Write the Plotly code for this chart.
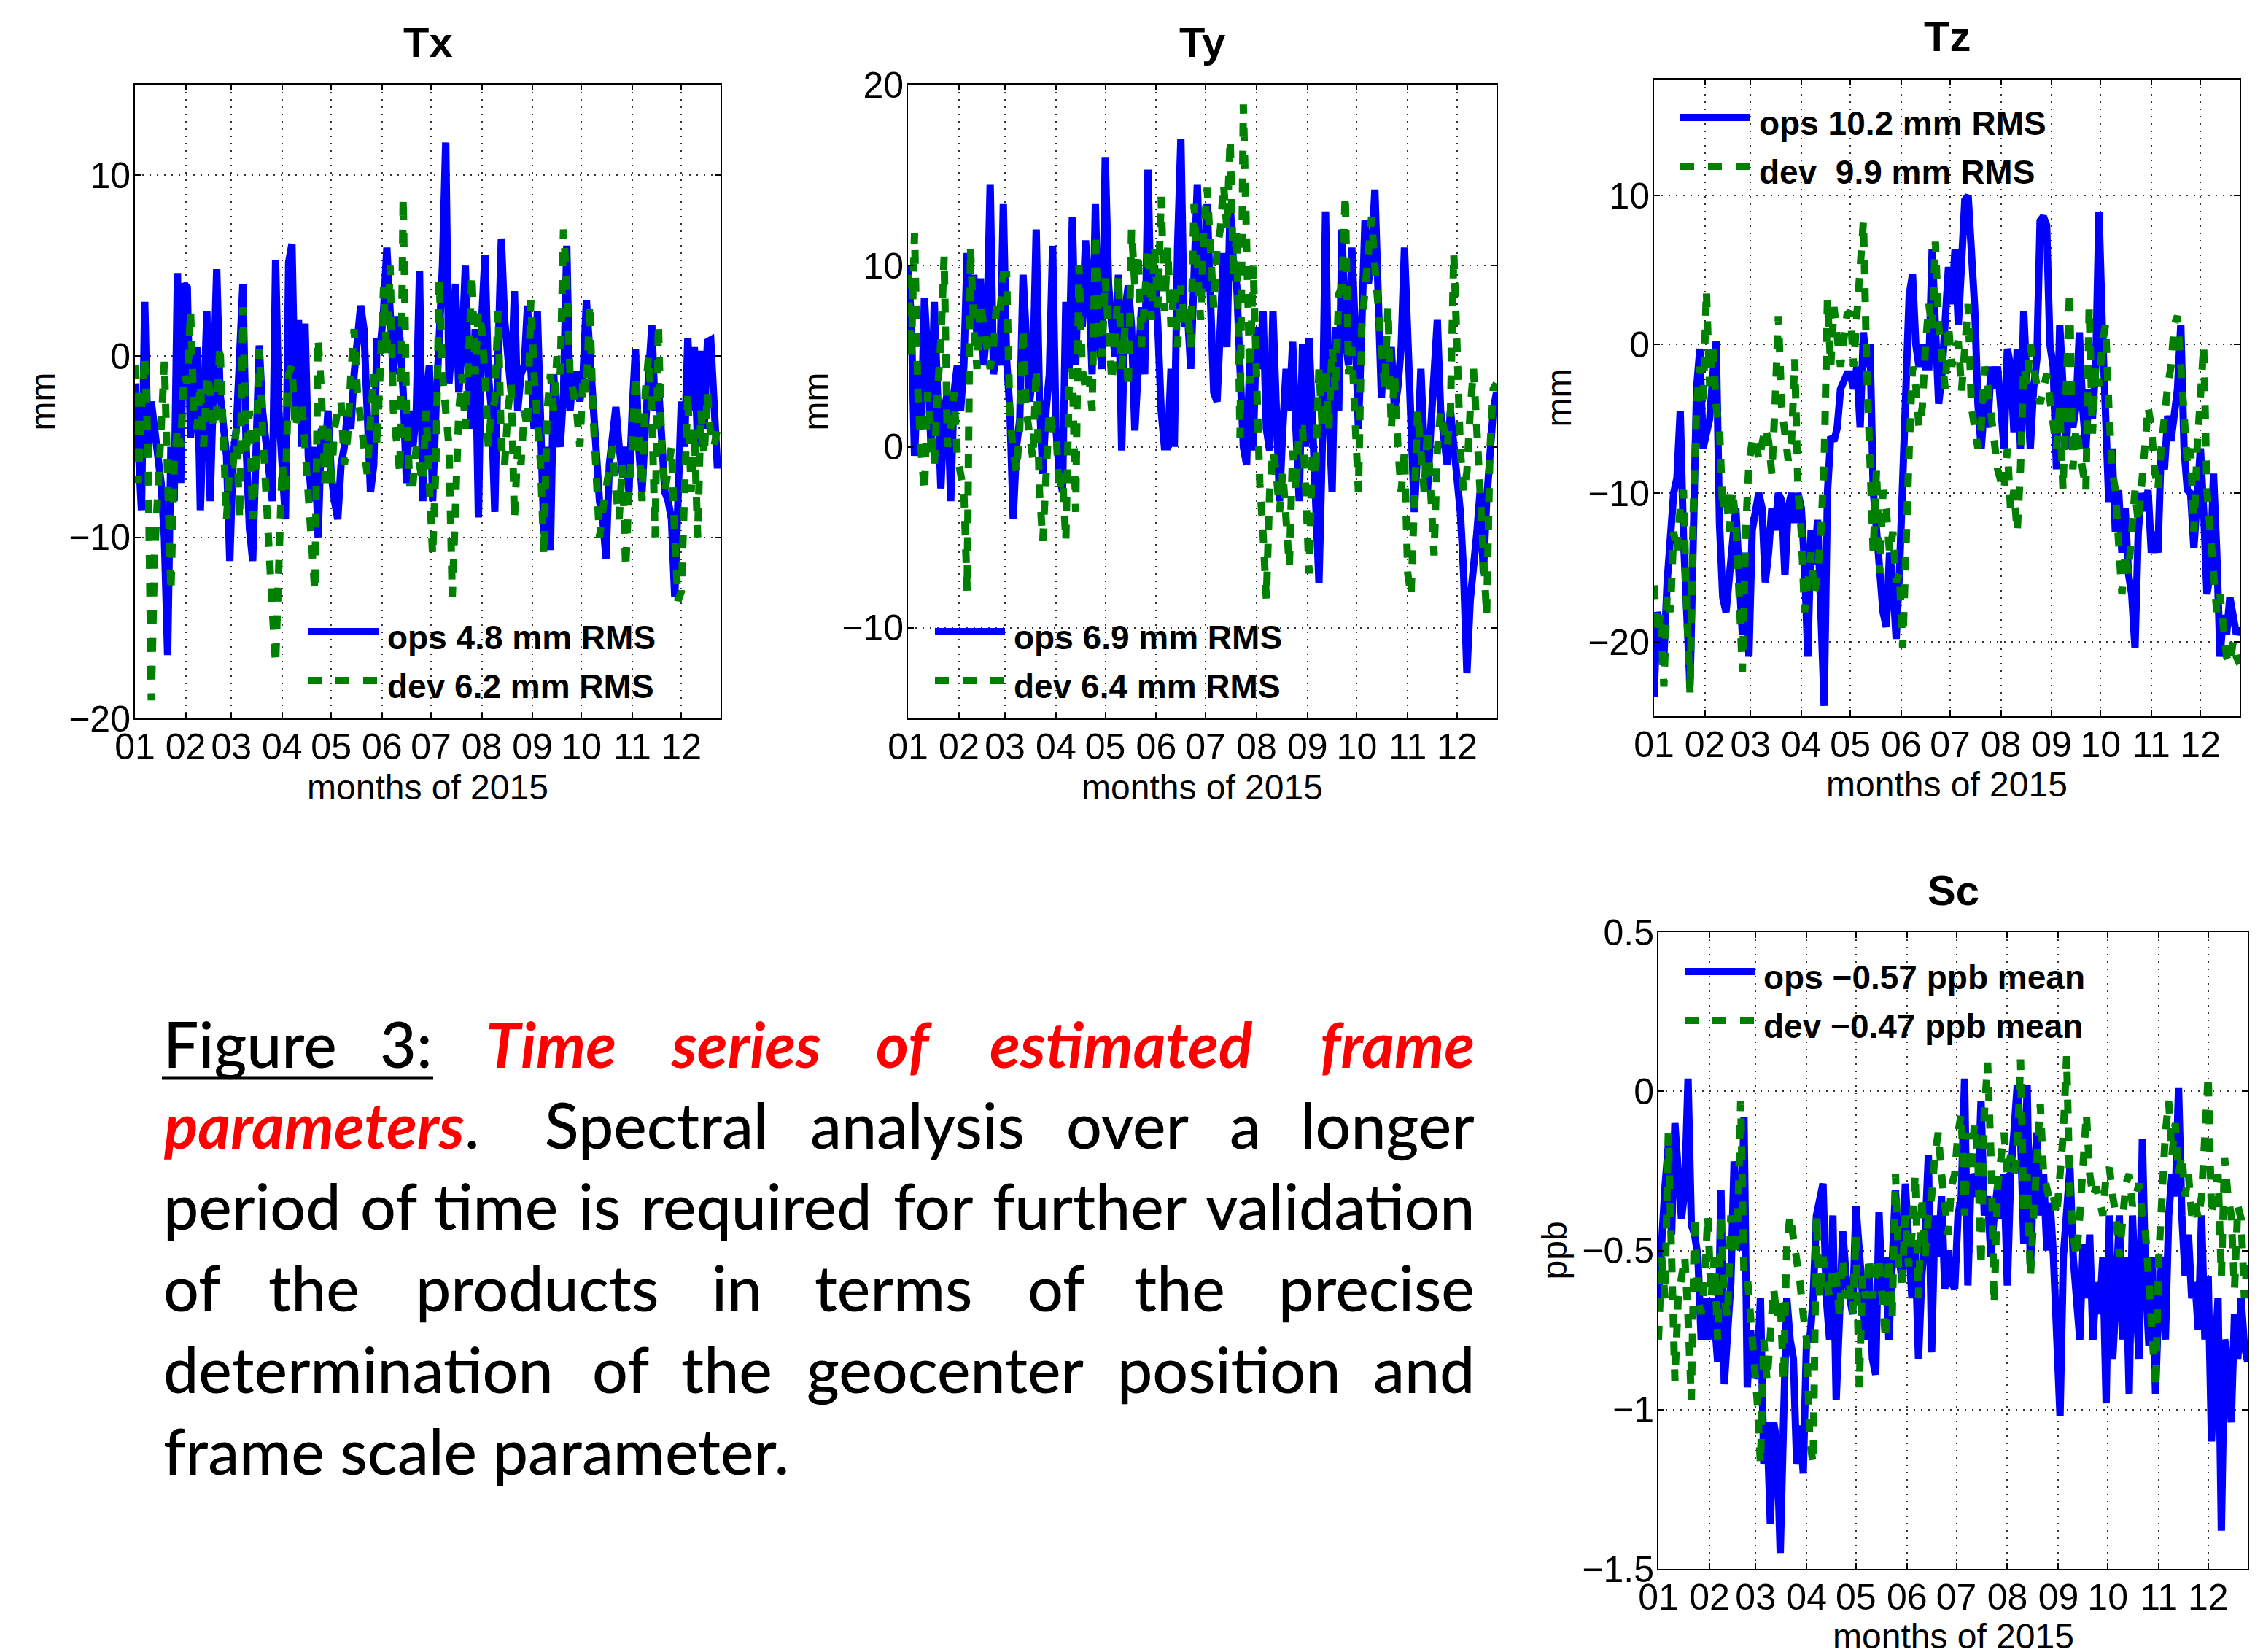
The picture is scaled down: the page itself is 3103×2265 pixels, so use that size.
import plotly.graph_objects as go
import pandas as pd

# ---------------- data (one value every 2 days) ----------------
day_of_year = list(range(1, 360, 2))          # 180 samples, 1 Jan .. 25 Dec 2015
month_ticks = ["2015-%02d-01" % m for m in range(1, 13)]
month_labels = ["01", "02", "03", "04", "05", "06", "07", "08", "09", "10", "11", "12"]

Tx_ops = [-1.5, -6, -8.5, 3.0, -5, -2.5, -4, -5.5, -7, -10, -16.5, -5, -8, 4.6, -7,
          4.0, 3.8, -4.5, -1.5, 0.5, -8.5, -3, 2.5, -8.0, -1.5, 4.8, -2, -3.5, -5.5, -11.3,
          -5.5, -4, 0, 4.0, -5, -9.5, -11.3, -5, 0.6, -3, -5, -6.5, -8, 5.3, -3,
          -6, -9, 5.2, 6.2, -3, 2, -5, 1.8, -5.5, -8, -5, -10, -4, -6, -3,
          -6.5, -8, -9, -6, -5, -3, -4, -1, 0.5, 2.8, 1.5, -4, -7.5, -6, 1,
          0.5, 2.5, 6.0, 3, -1, 2.2, 1.0, -2, -7, -3, -5, -3, 4.7, -8, -2.5,
          -0.5, -8, -3, 0.5, 5, 11.8, -1.5, 1.0, 4.0, -2, 0.5, 5.0, -1.5, -4, 1.5,
          -8.9, 2, 5.6, -1, -3, -8.6, 0, 6.5, 2, -0.5, -2, 3.6, -3, -1, -0.5,
          2.8, -1, -4, 2.5, -3, -9.8, -5, -10.7, -1, -4, -5, -2, 6.1, -3, -1,
          -1, -2.5, -1, 3.1, 0, -2, -5, -8, -9, -11.2, -6, -4.5, -2.8, -5, -6.5,
          -5, -7.5, -3, 0.4, -5, -7.5, -4, -1.5, 1.7, -3, -1.5, -4.5, -7.5, -8, -9,
          -13.3, -9, -2.5, -5, 1.0, -3, 0.5, -5, 0.3, -4, 0.8, 0.9, -3, -6, -6]
Tx_dev = [-0.5, -7, -3, 0, -5, -19, -11, -8, -4, -0.3, -9, -13, -6, -4, -5,
          -1, -1.5, 2.5, -3, -4, -1.5, -5, -1, -2, -4, -3, 0.6, -6, -9, -6,
          -6, -4, -9, 2.7, -5.5, -3, -9, -6, 0.4, -4, -8, -10, -14, -17, -10,
          -6, -7.5, -1, -0.5, -4, -3, -2.5, -5, -8, -9.5, -13, 1, -2, -7, -4,
          -7, -4, -3, -2.5, -6, -4.5, -1, 1.5, -2, -3.5, -5, -6.5, -3.5, -1, -5,
          1, 3.8, 0, 5.0, -3, -5, -6.5, 8.8, -3, -7, -7, -5, -6, -7, -3,
          -8, -11, -6, 4.3, -1, -3.5, -5, -13.3, -7, -3, -1, -4, 0, 4.5, -1,
          2.5, 1.5, -1, -5, -3, -2.5, 2.5, -5, -6, -3, -1.5, -9, -5, -6, -3,
          -4, 3.1, -1, -4, -6, -11, -3, -1, -3, 0, -1, 7, 4, -1, -2,
          -3, -5, -1, -2, 2.9, -3, -7.5, -10, -8.5, -7.5, -6.5, -5, -7.5, -9, -6,
          -11.7, -7.5, -5, -1, -5, -8, -2, 0, -3, -10, 1.8, -5, -7.5, -6, -5,
          -10, -13.5, -13, -6.5, -2, -7.5, -4, -10, -3, -5.5, -2, -4.5, -5, -4, -4]

Ty_ops = [10, 7, -0.5, 4, 1, 8.2, 5, 0, 8, 3, -2.3, 2, 3, -3, 3,
          4.5, 2, 4.5, 10.7, 7, 9.5, 6, 9.3, 4.5, 6.5, 14.5, 4, 5.5, 4.5, 13.4,
          4.8, 2, -4, 0, 1.5, 9.5, 6, 2.5, 4, 12, 2.5, -1.5, 2, 4, 11.1,
          1, -1.4, -2.5, 8, 4.3, 12.7, 4.5, 10, 6.6, 11.4, 8.9, 4, 13.4, 6, 4.3,
          16, 9, 6.6, 5, 9.5, -0.2, 7.5, 8.9, 6.6, 0.9, 4.3, 7.7, 4, 15.3, 7,
          10, 6.6, 2, 0, 0, 4.3, 0, 11, 17, 6.6, 7.5, 4.3, 10.7, 14.5, 9,
          8.6, 13.4, 6.6, 3, 2.5, 6.6, 10.7, 5.5, 13.4, 10, 8.9, 4.3, 0, -1, 5,
          -0.2, 6.6, 4.3, 7.5, 1, -0.2, 7.5, 2, -3, 1, 4.3, 2, 5.8, 1, -3,
          5.7, 0, 6, 2, -2.5, -7.5, 0, 13, 2, -2.5, 6.6, 2, 12, 6, 4.5,
          11, 6.6, 1, 6.6, 12.5, 9, 10.5, 14.2, 8.9, 2.7, 6, 4.3, 5.5, 2, 3.3,
          5.5, 11, 6.6, 2, -3.6, -0.2, 4.3, -0.2, -2.5, 1, 4.3, 7, 2, 0, -1,
          2, 0, -1.4, -3.6, -7, -12.5, -8.5, -7, -4.8, -2.5, -7, -3, -0.2, 2, 3]
Ty_dev = [9.5, 5, 11.8, 3, -0.2, -2.5, 3, 1, -1, 3, 5.9, 10.5, 0, 1, 3,
          -0.5, -1.5, -2.5, -8, 11, 6.6, 4.3, 8, 6.6, 5.5, 4.3, 5.5, 8, 7.5, 9.5,
          9.5, 1.6, -0.2, -1.4, 1, 6.6, 2, 0.2, -0.7, 4.3, -2.5, -5.2, -1.4, 2, 1,
          1, -2.5, -1.5, -5.2, 3.2, 4.3, -3.6, 10, 4.3, 3.2, 3.9, 2, 11.8, 6.6, 5,
          9.3, 5.5, 3.6, 5.5, 9.5, 4.3, 6.6, 3.2, 12, 8.9, 10.7, 5.5, 8.9, 11, 7,
          11, 7.7, 13.8, 7.5, 11, 6.6, 8.9, 5.5, 8.9, 6.6, 7.7, 5.5, 13.4, 10, 7,
          12, 14.3, 11, 7.7, 11, 12, 14.5, 12, 17, 9.3, 12, 0.5, 18.9, 11, 3.5,
          10, 3.2, -2, -4.8, -8.4, -2.5, -0.2, -1.4, -3.6, -1.4, -4, -6.6, -0.2, -2.5, 1,
          1, -2.5, -7, -0.2, -1.6, 4.3, 1, 4.3, 1, 5.5, 3, 8.4, 8.9, 13.9, 4,
          5.5, 2, -2.5, 6.6, 8.9, 11, 12.7, 10, 8.2, 5.5, 3.2, 7.7, 1, 4, 0,
          -2.5, -0.2, -7, -8.2, -1.4, 2, -0.2, -2.5, 1, -2.5, -6, -0.2, 2, 1, 0,
          2, 10.7, 5.5, -0.2, -2.5, -1.4, 2, 4.3, 1, -3, -5, -9.3, -0.2, 3.2, 3.5]

Tz_ops = [-23.7, -18, -19, -21, -16, -12, -10, -9, -4.5, -13, -17, -23, -13, -3, -0.3,
          -7, -6, -5, -2, 0.2, -12, -17, -18, -15.5, -13, -11, -15.5, -19.5, -14, -21,
          -12.5, -11, -10, -11, -16, -14, -11, -12.5, -10, -10.5, -15.5, -11, -10, -12, -10,
          -11, -14.8, -21, -12.5, -14.8, -11.8, -18, -24.3, -10, -6.2, -6.5, -5.6, -3, -2.5, -2,
          -2, -3, -1.5, -5.6, 0.8, -1.5, 0, -9.8, -12.5, -15.4, -18, -19, -14, -16, -19.8,
          -15.4, -10, -4, 3.3, 4.7, 0, -1.5, 0, -1.5, -1.5, 6.4, 1.3, -4, -2, 1,
          5.2, 2.7, 6.4, 1.3, 5.2, 9.7, 10, 6.9, 2.5, -4, -7, -4, -5.6, -1.5, -3,
          -1.5, -5.3, -7, -0.3, -1.5, -5.9, -0.3, -7, 2.2, -2.8, -7, -3, -1, 8.3, 8.6,
          8.0, 0, -1.5, -8.4, 1.3, -2.8, -7, -2.8, -5.6, -4.2, 0.8, -4.2, -7, -3, -5,
          -1.5, 8.9, 1.3, -4.2, -10.6, -7, -12.6, -9.8, -14, -11, -15.4, -16.8, -20.4, -12.6, -10,
          -11.2, -9.8, -14, -12.6, -14, -7, -8.4, -4.8, -6.5, -5, -3, 1.3, -7, -9.8, -10,
          -13.7, -9.8, -7, -11.2, -16.8, -15.4, -8.7, -14, -21, -18.2, -19.5, -17, -18.5, -19.5, -19]
Tz_dev = [-16.2, -19.5, -18, -23, -16.8, -18, -12.6, -14, -11, -9.8, -18, -23.4, -11, -4.2, -1.5,
          -4.2, 3.6, -2.8, 0, -4.2, -5.6, -11.2, -9.8, -12.6, -9.8, -12, -16.8, -22, -12.6, -8,
          -6.5, -6.2, -7.8, -6.7, -5.6, -6.5, -8.7, -4, 1.9, -4.2, -6.5, -7.8, -6.7, -1, -9.8,
          -12.6, -18, -15.4, -14, -16.8, -15.4, -12.6, -8, 3, -1.5, 2.5, 0, -1.5, 0.3, 2,
          2.2, -1.5, 2, 5.5, 8.3, -1.5, -7, -14, -8.4, -15.4, -9.8, -11.2, -14, -12.6, -16,
          -15.4, -20.4, -11.2, -7, -1.5, -2.8, -5.6, -4.2, 0, 2.7, 1, 6.9, 1.3, -1.5, -3,
          1.3, -1.5, -0.3, 0.2, -3.1, 0, 2.7, -4.2, -5.6, -7, -5.6, -1.5, -2.8, -5, -7,
          -8.4, -9.2, -9.8, -7, -11.2, -9.8, -12.6, -8.4, -1.5, -2.8, 0, -1.5, -2.8, -4, -3,
          -2, -3.7, -5.6, -7, -4.2, -9.8, -3, 3.6, -8.4, -5.6, -7, -8.4, -9.8, 2.5, -6,
          -1.5, -2.8, 0, 1.3, -4.2, -8.4, -9.8, -12.6, -16.8, -14, -15.4, -12.6, -9.8, -12, -10,
          -7, -4.2, -5.6, -8.4, -9.8, -7, -4.2, -2.8, -1.5, 1.3, 1.9, -1.5, -5.6, -8, -7,
          -12.6, -7, -2.8, -0.1, -9.8, -12.6, -15.4, -18, -16.8, -19.5, -21, -21.5, -20, -21, -21.5]

Sc_ops = [-0.65, -0.45, -0.3, -0.17, -0.45, -0.1, -0.26, -0.4, -0.31, 0.04, -0.42, -0.45, -0.52, -0.78, -0.65,
          -0.78, -0.65, -0.71, -0.85, -0.31, -0.92, -0.78, -0.6, -0.22, -0.39, -0.5, -0.08, -0.93, -0.75, -0.9,
          -0.88, -0.65, -1.17, -1.04, -1.36, -1.04, -1.1, -1.45, -1.04, -0.65, -0.78, -0.84, -1.17, -1.05, -1.2,
          -0.78, -0.78, -0.65, -0.39, -0.33, -0.29, -0.65, -0.78, -0.39, -0.97, -0.71, -0.44, -0.58, -0.65, -0.7,
          -0.36, -0.52, -0.65, -0.78, -0.58, -0.84, -0.89, -0.38, -0.65, -0.52, -0.78, -0.58, -0.31, -0.5, -0.6,
          -0.29, -0.52, -0.65, -0.49, -0.84, -0.58, -0.45, -0.2, -0.82, -0.39, -0.52, -0.33, -0.62, -0.5, -0.6,
          -0.62, -0.39, -0.33, 0.04, -0.61, -0.26, -0.29, -0.33, -0.03, -0.39, -0.33, -0.52, -0.39, -0.3, -0.4,
          -0.26, -0.61, -0.26, -0.13, 0.02, -0.13, -0.48, 0.02, -0.56, -0.26, -0.13, -0.39, -0.26, -0.5, -0.35,
          -0.52, -0.78, -1.02, -0.52, -0.39, -0.24, -0.52, -0.65, -0.78, -0.48, -0.65, -0.45, -0.78, -0.6, -0.7,
          -0.52, -0.98, -0.39, -0.84, -0.65, -0.39, -0.78, -0.52, -0.95, -0.39, -0.65, -0.84, -0.15, -0.6, -0.8,
          -0.52, -0.95, -0.65, -0.52, -0.78, -0.39, -0.26, -0.33, 0.01, -0.39, -0.58, -0.45, -0.65, -0.6, -0.75,
          -0.39, -0.78, -0.58, -1.1, -0.84, -0.65, -1.38, -0.78, -0.84, -1.04, -0.7, -0.84, -0.65, -0.8, -0.85]
Sc_dev = [-0.78, -0.52, -0.65, -0.13, -0.52, -0.91, -0.65, -0.58, -0.52, -0.71, -0.97, -0.39, -0.65, -0.7, -0.6,
          -0.39, -0.65, -0.52, -0.78, -0.39, -0.65, -0.71, -0.39, -0.52, -0.45, -0.03, -0.58, -0.58, -0.71, -0.8,
          -0.97, -1.17, -0.78, -0.91, -0.71, -0.62, -0.71, -0.65, -0.91, -0.48, -0.39, -0.45, -0.52, -0.6, -0.7,
          -0.78, -1.1, -1.17, -0.39, -0.65, -0.52, -0.58, -0.65, -0.55, -0.58, -0.71, -0.52, -0.65, -0.6, -0.7,
          -0.45, -0.93, -0.58, -0.65, -0.52, -0.65, -0.58, -0.52, -0.65, -0.78, -0.52, -0.71, -0.26, -0.55, -0.6,
          -0.39, -0.55, -0.45, -0.26, -0.65, -0.33, -0.52, -0.39, -0.33, -0.2, -0.13, -0.26, -0.39, -0.45, -0.3,
          -0.26, -0.13, -0.07, -0.39, -0.13, -0.26, -0.1, -0.2, -0.55, -0.07, 0.09, -0.2, -0.67, -0.3, -0.2,
          -0.13, -0.26, -0.2, -0.26, -0.2, 0.1, -0.39, -0.26, -0.58, -0.39, -0.2, -0.04, -0.26, -0.3, -0.35,
          -0.33, -0.39, -0.26, -0.13, 0.11, -0.33, -0.45, -0.52, -0.39, -0.2, -0.07, -0.26, -0.33, -0.3, -0.35,
          -0.39, -0.26, -0.24, -0.33, -0.39, -0.52, -0.39, -0.29, -0.26, -0.36, -0.33, -0.29, -0.39, -0.45, -0.6,
          -0.78, -0.93, -0.52, -0.26, -0.13, -0.03, -0.2, -0.1, -0.26, -0.2, -0.33, -0.26, -0.39, -0.35, -0.4,
          -0.33, -0.13, 0.05, -0.39, -0.33, -0.26, -0.58, -0.21, -0.33, -0.39, -0.62, -0.36, -0.4, -0.65, -0.5]

legend_ops = ["ops 4.8 mm RMS", "ops 6.9 mm RMS", "ops 10.2 mm RMS", "ops \u22120.57 ppb mean"]
legend_dev = ["dev 6.2 mm RMS", "dev 6.4 mm RMS", "dev \u00a09.9 mm RMS", "dev \u22120.47 ppb mean"]
panel_titles = ["Tx", "Ty", "Tz", "Sc"]
y_titles = ["mm", "mm", "mm", "ppb"]
x_title = "months of 2015"

# ---------------- layout helpers ----------------
OFF = 8                      # the page body adds an 8 px margin round the figure
W, H = 3103 - OFF, 2265 - OFF
def fx(p):
    return (p - OFF) / W
def fy(p):
    return 1 - (p - OFF) / H

dates = pd.Timestamp("2014-12-31") + pd.to_timedelta(day_of_year, unit="D")

BLUE = "#0000ff"
GREEN = "#008000"
AX_FONT = dict(family="Liberation Sans, Arial, sans-serif", size=48, color="black")
TICK_FONT = dict(family="Liberation Sans, Arial, sans-serif", size=50, color="black")
LEG_FONT = dict(family="Liberation Sans, Arial", size=46, color="black")
DASH = "19px,19px"
LW = 10

# pixel boxes (left, top, right, bottom) of the four axes, in screenshot pixels
panels = [
    dict(box=(185, 116, 988, 985), yr=[-20, 15], dt=10, ops=Tx_ops, dev=Tx_dev,
         title_y=58, xt_y=1079, yt_x=58, leg=(422, 519, 866, 933)),
    dict(box=(1245, 116, 2052, 985), yr=[-15, 20], dt=10, ops=Ty_ops, dev=Ty_dev,
         title_y=58, xt_y=1079, yt_x=1118, leg=(1282, 1378, 866, 933)),
    dict(box=(2268, 109, 3071, 982), yr=[-25, 17.8], dt=10, ops=Tz_ops, dev=Tz_dev,
         title_y=50, xt_y=1075, yt_x=2137, leg=(2304, 2400, 161, 228)),
    dict(box=(2274, 1278, 3082, 2151), yr=[-1.5, 0.5], dt=0.5, ops=Sc_ops, dev=Sc_dev,
         title_y=1220, xt_y=2243, yt_x=2131, leg=(2310, 2406, 1332, 1399)),
]

fig = go.Figure()
layout = dict(width=W, height=H, margin=dict(l=0, r=0, t=0, b=0, autoexpand=False),
              paper_bgcolor="white", plot_bgcolor="white", showlegend=False)
annotations = []
shapes = []

for i, p in enumerate(panels):
    n = "" if i == 0 else str(i + 1)
    L, T, R, B = p["box"]
    fig.add_trace(go.Scatter(x=dates, y=p["ops"], mode="lines",
                             line=dict(color=BLUE, width=LW),
                             xaxis="x" + n, yaxis="y" + n, showlegend=False))
    fig.add_trace(go.Scatter(x=dates, y=p["dev"], mode="lines",
                             line=dict(color=GREEN, width=LW, dash=DASH),
                             xaxis="x" + n, yaxis="y" + n, showlegend=False))
    common = dict(showline=True, linecolor="black", linewidth=2, mirror="ticks",
                  ticks="inside", ticklen=8, tickwidth=2, tickcolor="black",
                  showgrid=True, gridcolor="rgba(0,0,0,0.8)", griddash="2px,8px", gridwidth=1.5,
                  zeroline=False, tickfont=TICK_FONT, automargin=False)
    layout["xaxis" + n] = dict(common, domain=[fx(L), fx(R)], anchor="y" + n, type="date",
                               range=["2015-01-01", "2015-12-25"],
                               tickvals=month_ticks, ticktext=month_labels,
                               ticklabelstandoff=-6)
    layout["yaxis" + n] = dict(common, domain=[fy(B), fy(T)], anchor="x" + n,
                               range=p["yr"], dtick=p["dt"], tick0=0,
                               ticklabelstandoff=-6)
    cx = (L + R) / 2
    annotations.append(dict(text="<b>%s</b>" % panel_titles[i], x=fx(cx), y=fy(p["title_y"]),
                            xref="paper", yref="paper", showarrow=False,
                            xanchor="center", yanchor="middle",
                            font=dict(family="Liberation Sans, Arial", size=58, color="black")))
    annotations.append(dict(text=x_title, x=fx(cx), y=fy(p["xt_y"]),
                            xref="paper", yref="paper", showarrow=False,
                            xanchor="center", yanchor="middle", font=AX_FONT))
    annotations.append(dict(text=y_titles[i], x=fx(p["yt_x"]), y=fy((T + B) / 2),
                            xref="paper", yref="paper", showarrow=False, textangle=-90,
                            xanchor="center", yanchor="middle", font=AX_FONT))
    # manual legend (MATLAB style, no box)
    lx0, lx1, ly_ops, ly_dev = p["leg"]
    shapes.append(dict(type="line", xref="paper", yref="paper",
                       x0=fx(lx0), x1=fx(lx1), y0=fy(ly_ops), y1=fy(ly_ops),
                       line=dict(color=BLUE, width=LW)))
    shapes.append(dict(type="line", xref="paper", yref="paper",
                       x0=fx(lx0), x1=fx(lx1), y0=fy(ly_dev), y1=fy(ly_dev),
                       line=dict(color=GREEN, width=LW, dash=DASH)))
    for txt, yy in ((legend_ops[i], ly_ops), (legend_dev[i], ly_dev)):
        annotations.append(dict(text="<b>%s</b>" % txt, x=fx(lx1 + 10), y=fy(yy + 8),
                                xref="paper", yref="paper", showarrow=False,
                                xanchor="left", yanchor="middle", font=LEG_FONT))

# ---------------- caption (justified text, placed word by word) ----------------
CAP_FONT = "Lato, Open Sans, sans-serif"
CAP_SIZE = 86
RED = "#ff0000"
def red(t):
    return "<span style='color:%s'><b><i>%s</i></b></span>" % (RED, t)

caption_lines = [
    (1430, [("Figure", 222, "left"), ("3:", 557, "center"), (red("Time"), 755, "center"),
            (red("series"), 1023, "center"), (red("of"), 1240, "center"),
            (red("estimated"), 1537, "center"), (red("frame"), 2024, "right")]),
    (1541, [(red("parameters") + ".", 222, "left"), ("Spectral", 900, "center"),
            ("analysis", 1258, "center"), ("over", 1546, "center"), ("a", 1707, "center"),
            ("longer", 2024, "right")]),
    (1652, [("period", 222, "left"), ("of", 533, "center"), ("time", 680, "center"),
            ("is", 822, "center"), ("required", 1037, "center"), ("for", 1279, "center"),
            ("further", 1494, "center"), ("validation", 2024, "right")]),
    (1764, [("of", 222, "left"), ("the", 430, "center"), ("products", 736, "center"),
            ("in", 1010, "center"), ("terms", 1225, "center"), ("of", 1448, "center"),
            ("the", 1617, "center"), ("precise", 2024, "right")]),
    (1876, [("determination", 222, "left"), ("of", 851, "center"), ("the", 996, "center"),
            ("geocenter", 1296, "center"), ("position", 1685, "center"), ("and", 2024, "right")]),
    (1988, [("frame scale parameter.", 222, "left")]),
]
for yy, words in caption_lines:
    for txt, xx, anc in words:
        annotations.append(dict(text=txt, x=fx(xx), y=fy(yy), xref="paper", yref="paper",
                                showarrow=False, xanchor=anc, yanchor="middle",
                                font=dict(family=CAP_FONT, size=CAP_SIZE, color="black",
                                          weight=500)))
shapes.append(dict(type="line", xref="paper", yref="paper", x0=fx(222), x1=fx(594),
                   y0=fy(1478), y1=fy(1478), line=dict(color="black", width=5)))

layout["annotations"] = annotations
layout["shapes"] = shapes
fig.update_layout(**layout)
fig.write_html("out.html")
